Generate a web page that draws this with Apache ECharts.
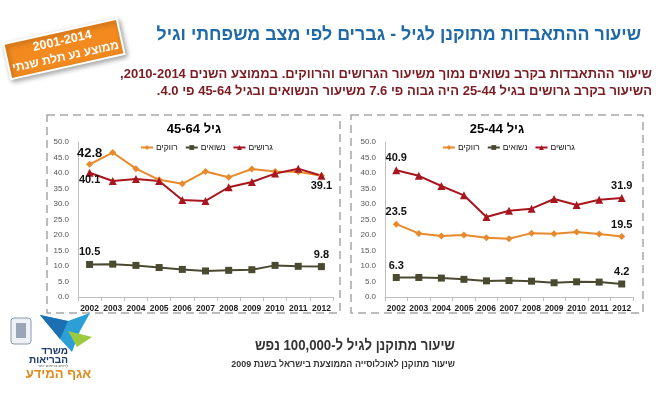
<!DOCTYPE html>
<html>
<head>
<meta charset="utf-8">
<script src="https://cdn.jsdelivr.net/npm/echarts@6/dist/echarts.min.js"></script>
<style>
html, body { margin: 0; padding: 0; background: #fff; }
#main { width: 667px; height: 397px; }
</style>
</head>
<body>
<div id="main" dir="rtl"></div>
<script>
// נתונים
var years = ['2002', '2003', '2004', '2005', '2006', '2007', '2008', '2009', '2010', '2011', '2012'];
var seriesNames = ['רווקים', 'נשואים', 'גרושים'];

// גיל 45-64
var single4564 = [42.8, 46.6, 41.4, 37.8, 36.5, 40.5, 38.6, 41.3, 40.5, 40.4, 39.1];
var married4564 = [10.5, 10.6, 10.2, 9.5, 8.9, 8.4, 8.6, 8.8, 10.2, 9.9, 9.8];
var divorced4564 = [40.1, 37.4, 38.1, 37.4, 31.3, 31.0, 35.4, 37.1, 39.8, 41.4, 39.1];

// גיל 25-44
var single2544 = [23.5, 20.5, 19.7, 20.0, 19.1, 18.8, 20.6, 20.4, 21.0, 20.3, 19.5];
var married2544 = [6.3, 6.3, 6.1, 5.7, 5.2, 5.3, 5.1, 4.6, 4.9, 4.8, 4.2];
var divorced2544 = [40.9, 39.1, 35.8, 32.8, 25.8, 27.8, 28.5, 31.6, 29.7, 31.4, 31.9];

var yTicks = [0, 50, 5];

var mainTitle = 'שיעור ההתאבדות מתוקנן לגיל - גברים לפי מצב משפחתי וגיל';
var noteLine1 = 'שיעור ההתאבדות בקרב נשואים נמוך משיעור הגרושים והרווקים. בממוצע השנים 2010-2014,';
var noteLine2 = 'השיעור בקרב גרושים בגיל 25-44 היה גבוה פי 7.6 משיעור הנשואים ובגיל 45-64 פי 4.0.';
var leftTitle = 'גיל 45-64';
var rightTitle = 'גיל 25-44';
var badge1 = '2001-2014';
var badge2 = 'ממוצע נע תלת שנתי';
var caption1 = 'שיעור מתוקנן לגיל ל-100,000 נפש';
var caption2 = 'שיעור מתוקנן לאוכלוסייה הממוצעת בישראל בשנת 2009';

var FONT = '"Liberation Sans", Arial, "DejaVu Sans", sans-serif';
var colors = ['#E8892B', '#4A4A30', '#A8151E'];
var symbols = ['diamond', 'rect', 'triangle'];
var sizes = [7, 7, 8];

var myChart = echarts.init(document.getElementById('main'));

// labels only on first / last points
function lineSeries(k, vals, idx, labels) {
    return {
        name: seriesNames[k],
        type: 'line',
        xAxisIndex: idx,
        yAxisIndex: idx,
        symbol: symbols[k],
        symbolSize: sizes[k],
        itemStyle: { color: colors[k] },
        lineStyle: { color: colors[k], width: 2 },
        label: {
            show: false,
            fontFamily: FONT,
            fontWeight: 'bold',
            fontSize: 11,
            color: '#111',
            formatter: function (p) { return p.value.toFixed(1); }
        },
        data: vals.map(function (v, i) {
            var d = { value: v };
            if (labels[i]) {
                d.label = Object.assign({ show: true }, labels[i]);
            }
            return d;
        }),
        animation: false
    };
}

function axisX(idx) {
    return {
        type: 'category',
        gridIndex: idx,
        data: years,
        boundaryGap: true,
        axisLine: { lineStyle: { color: '#bfbfbf' } },
        axisTick: { show: true, length: 4, lineStyle: { color: '#bfbfbf' } },
        axisLabel: { interval: 0, fontFamily: FONT, fontSize: 8.5, fontWeight: 'bold', color: '#222', margin: 7 }
    };
}

function axisY(idx) {
    return {
        type: 'value',
        gridIndex: idx,
        min: yTicks[0],
        max: yTicks[1],
        interval: yTicks[2],
        axisLine: { show: true, lineStyle: { color: '#bfbfbf' } },
        axisTick: { show: false },
        splitLine: { show: false },
        axisLabel: {
            fontFamily: FONT, fontSize: 8, color: '#555', margin: 9,
            formatter: function (v) { return v.toFixed(1); }
        }
    };
}

var legendBase = {
    data: seriesNames,
    itemWidth: 12,
    itemHeight: 6,
    itemGap: 7,
    textStyle: { fontFamily: FONT, fontSize: 8.5, color: '#111', padding: [0, 0, 0, -2] },
    selectedMode: false
};

function txt(x, y, s, font, fill, align, sx) {
    return {
        type: 'text', x: x, y: y, scaleX: sx || 1,
        style: { text: s, font: font, fill: fill, textAlign: align, textVerticalAlign: 'middle' }
    };
}

var option = {
    backgroundColor: '#fff',
    textStyle: { fontFamily: FONT },
    animation: false,
    legend: [
        Object.assign({ left: 135, top: 138 }, legendBase),
        Object.assign({ left: 437, top: 138 }, legendBase)
    ],
    grid: [
        { left: 78, top: 142, width: 255, height: 155 },
        { left: 385, top: 142, width: 248, height: 155 }
    ],
    xAxis: [axisX(0), axisX(1)],
    yAxis: [axisY(0), axisY(1)],
    series: [
        lineSeries(0, single4564, 0, { 0: { position: 'top', distance: 1, fontSize: 13 } }),
        lineSeries(1, married4564, 0, { 0: { position: 'top', distance: 3 }, 10: { position: 'top', distance: 3 } }),
        lineSeries(2, divorced4564, 0, { 0: { position: 'bottom', distance: 0, offset: [0, -2] }, 10: { position: 'bottom', distance: 1 } }),
        lineSeries(0, single2544, 1, { 0: { position: 'top', distance: 3 }, 10: { position: 'top', distance: 3 } }),
        lineSeries(1, married2544, 1, { 0: { position: 'top', distance: 3 }, 10: { position: 'top', distance: 3 } }),
        lineSeries(2, divorced2544, 1, { 0: { position: 'top', distance: 3 }, 10: { position: 'top', distance: 3 } })
    ],
    graphic: [
        // dashed panels
        { type: 'rect', z: -1, shape: { x: 47, y: 115, width: 293, height: 198 },
          style: { fill: 'none', stroke: '#a6a6a6', lineWidth: 1.5, lineDash: [8, 5] } },
        { type: 'rect', z: -1, shape: { x: 351, y: 115, width: 292, height: 198 },
          style: { fill: 'none', stroke: '#a6a6a6', lineWidth: 1.5, lineDash: [8, 5] } },
        // titles
        txt(641, 35, mainTitle, 'bold 18px ' + FONT, '#1F69A6', 'right', 0.99),
        txt(652, 74, noteLine1, 'bold 13px ' + FONT, '#7A1C22', 'right'),
        txt(652, 91, noteLine2, 'bold 13px ' + FONT, '#7A1C22', 'right'),
        txt(194, 129, leftTitle, 'bold 13px ' + FONT, '#000', 'center'),
        txt(497, 129, rightTitle, 'bold 13px ' + FONT, '#000', 'center'),
        // bottom captions
        txt(455, 346, caption1, 'bold 15px ' + FONT, '#333', 'right', 0.88),
        txt(455, 364, caption2, 'bold 9.5px ' + FONT, '#333', 'right', 0.94),
        // orange badge
        {
            type: 'group', x: 64, y: 49, rotation: 0.218,
            children: [
                { type: 'rect', shape: { x: -58, y: -18, width: 116, height: 36 },
                  style: { fill: '#F28A1F', stroke: '#fff', lineWidth: 2, shadowBlur: 5, shadowColor: 'rgba(0,0,0,0.35)', shadowOffsetX: 2, shadowOffsetY: 2 } },
                txt(0, -8, badge1, 'bold 12.5px ' + FONT, '#fff', 'center'),
                txt(0, 8, badge2, 'bold 12px ' + FONT, '#fff', 'center')
            ]
        },
        // logo (rough)
        { type: 'rect', shape: { x: 11, y: 318, width: 20, height: 26, r: 3 }, style: { fill: '#eef1f5', stroke: '#8a98ad', lineWidth: 1 } },
        { type: 'rect', shape: { x: 16, y: 323, width: 10, height: 15 }, style: { fill: '#9aa6b8' } },
        { type: 'polygon', shape: { points: [[40, 315], [68, 321], [90, 313], [80, 331], [72, 352], [60, 339]] }, style: { fill: '#2C9FD6' } },
        { type: 'polygon', shape: { points: [[40, 315], [68, 321], [60, 339]] }, style: { fill: '#1C6FB0' } },
        { type: 'polygon', shape: { points: [[68, 331], [92, 337], [77, 347]] }, style: { fill: '#9BC93F' } },
        txt(68, 351, 'משרד', 'bold 10px ' + FONT, '#1B3A6B', 'right'),
        txt(68, 360, 'הבריאות', 'bold 10px ' + FONT, '#1B3A6B', 'right'),
        txt(68, 366, 'לחיים בריאים יותר', '4px ' + FONT, '#555', 'right'),
        txt(91, 374, 'אגף המידע', 'bold 13px ' + FONT, '#E08A1E', 'right')
    ]
};

myChart.setOption(option);
</script>
</body>
</html>
